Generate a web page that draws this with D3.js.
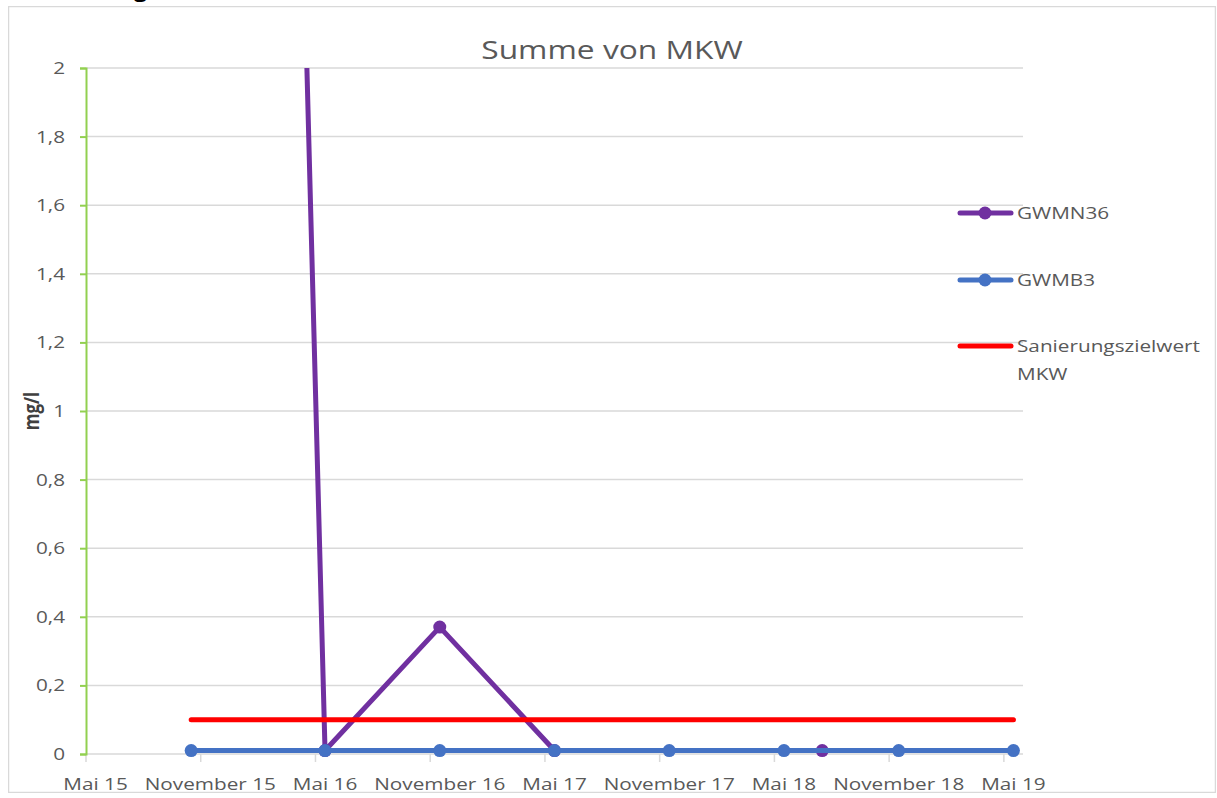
<!DOCTYPE html>
<html>
<head>
<meta charset="utf-8">
<script src="https://cdn.jsdelivr.net/npm/d3@7"></script>
<style>
  body { margin: 0; background: #fff; }
  text { font-family: "Open Sans", "Noto Sans", sans-serif; }
</style>
</head>
<body>
<div id="chart"></div>
<script>
// sample dates (year-month) and values in mg/l
const sampleMonths = ["2015-10", "2016-05", "2016-11", "2017-05", "2017-11", "2018-05", "2018-07", "2018-11", "2019-05"];
const gwmn36 = [14.7, 0.01, 0.37, 0.01, null, null, 0.01, null, null];
const gwmb3 = [0.01, 0.01, 0.01, 0.01, 0.01, 0.01, null, 0.01, 0.01];
const zielwert = [0.1, 0.1, 0.1, 0.1, 0.1, 0.1, 0.1, 0.1, 0.1];

const tickMonths = ["2015-05", "2015-11", "2016-05", "2016-11", "2017-05", "2017-11", "2018-05", "2018-11", "2019-05"];
const tickLabels = ["Mai 15", "November 15", "Mai 16", "November 16", "Mai 17", "November 17", "Mai 18", "November 18", "Mai 19"];
const yTicks = [0, 0.2, 0.4, 0.6, 0.8, 1, 1.2, 1.4, 1.6, 1.8, 2];
const yTickLabels = ["0", "0,2", "0,4", "0,6", "0,8", "1", "1,2", "1,4", "1,6", "1,8", "2"];

const W = 1217, H = 798;
const plot = { left: 86, right: 1023, top: 68, bottom: 754 };
const grey = "#595959", gridCol = "#d9d9d9";
const sx = 1.22; // the screenshot is stretched sideways, so are its letters

const svg = d3.select("#chart").append("svg")
  .attr("width", W)
  .attr("height", H);

// helper: text placed at (x,y), stretched horizontally
function wideText(sel, x, y, str) {
  return sel.append("text")
    .attr("transform", "translate(" + x + "," + y + ")scale(" + sx + ",1)")
    .text(str);
}

// whole chart is clipped to its frame
svg.append("clipPath").attr("id", "frame")
  .append("rect").attr("x", 8).attr("y", 6).attr("width", 1208).attr("height", 787);
svg.append("clipPath").attr("id", "plotclip")
  .append("rect").attr("x", plot.left).attr("y", plot.top)
  .attr("width", plot.right - plot.left + 10).attr("height", plot.bottom - plot.top + 10);

// heading text above the chart (only its descender shows)
wideText(svg, 134, -3, "g")
  .style("font-size", "19px").style("font-weight", "bold").attr("fill", "#000");

const g = svg.append("g").attr("clip-path", "url(#frame)");

g.append("rect")
  .attr("x", 8.5).attr("y", 6.5).attr("width", 1207).attr("height", 786)
  .attr("fill", "#fff").attr("stroke", gridCol).attr("stroke-width", 1.5);

// one band per month, Excel-style date axis with month base unit
const fmt = d3.timeFormat("%Y-%m");
const months = d3.timeMonth.range(new Date(2015, 4, 1), new Date(2019, 5, 1)).map(fmt);

const x = d3.scaleBand()
  .domain(months)
  .range([plot.left, plot.right]);
const xc = (m) => x(m) + x.bandwidth() / 2;

const y = d3.scaleLinear()
  .domain([0, 2])
  .range([plot.bottom, plot.top]);

// gridlines
g.append("g")
  .selectAll("line")
  .data(yTicks)
  .join("line")
  .attr("x1", plot.left).attr("x2", plot.right)
  .attr("y1", d => y(d)).attr("y2", d => y(d))
  .attr("stroke", gridCol).attr("stroke-width", 1.5);

// x axis labels (centred on the month) + tick marks at month start
const xAxis = g.append("g")
  .attr("transform", "translate(0," + plot.bottom + ")")
  .call(d3.axisBottom(x)
    .tickValues(tickMonths)
    .tickFormat((d, i) => tickLabels[i])
    .tickSize(0)
    .tickPadding(24));
xAxis.select(".domain").remove();
xAxis.selectAll(".tick line").remove();
xAxis.selectAll("text")
  .attr("fill", grey)
  .attr("transform", "scale(" + sx + ",1)")
  .style("font-size", "17px")
  .style("font-family", "'Open Sans', sans-serif");
g.append("g")
  .selectAll("line")
  .data(tickMonths)
  .join("line")
  .attr("x1", d => x(d)).attr("x2", d => x(d))
  .attr("y1", plot.bottom).attr("y2", plot.bottom + 8)
  .attr("stroke", gridCol).attr("stroke-width", 1.5);

// y axis (green)
const yPad = 14;
const yAxis = g.append("g")
  .attr("transform", "translate(" + plot.left + ",0)")
  .call(d3.axisLeft(y)
    .tickValues(yTicks)
    .tickFormat((d, i) => yTickLabels[i])
    .tickSize(6)
    .tickSizeOuter(6)
    .tickPadding(yPad));
yAxis.select(".domain").attr("stroke", "#92d050").attr("stroke-width", 2);
yAxis.selectAll(".tick line").attr("stroke", "#92d050").attr("stroke-width", 2);
yAxis.selectAll("text")
  .attr("fill", grey)
  .attr("x", -(6 + yPad + 1) / sx)
  .attr("transform", "scale(" + sx + ",1)")
  .style("font-size", "17px")
  .style("font-family", "'Open Sans', sans-serif");

// title
wideText(g, 612, 59, "Summe von MKW")
  .attr("text-anchor", "middle")
  .attr("fill", grey)
  .style("font-size", "26px");

// y label
g.append("text")
  .attr("transform", "translate(39,411)rotate(-90)scale(1," + sx + ")")
  .attr("text-anchor", "middle")
  .attr("fill", "#404040")
  .style("font-size", "17px")
  .style("font-weight", "bold")
  .text("mg/l");

// series
const series = [
  { name: "GWMN36", values: gwmn36, color: "#7030a0", marker: true },
  { name: "GWMB3", values: gwmb3, color: "#4472c4", marker: true },
  { name: "Sanierungszielwert MKW", values: zielwert, color: "#ff0000", marker: false }
];

const line = d3.line()
  .x(d => xc(d.m))
  .y(d => y(d.v));

const plotG = g.append("g").attr("clip-path", "url(#plotclip)");

series.forEach(s => {
  const pts = sampleMonths.map((m, i) => ({ m: m, v: s.values[i] })).filter(d => d.v != null);
  plotG.append("path")
    .datum(pts)
    .attr("fill", "none")
    .attr("stroke", s.color)
    .attr("stroke-width", 5)
    .attr("stroke-linejoin", "round")
    .attr("stroke-linecap", "round")
    .attr("d", line);
  if (s.marker) {
    plotG.append("g")
      .selectAll("circle")
      .data(pts)
      .join("circle")
      .attr("cx", d => xc(d.m))
      .attr("cy", d => y(d.v))
      .attr("r", 6.5)
      .attr("fill", s.color);
  }
});

// legend
const legY = [213, 280, 346];
series.forEach((s, i) => {
  const row = g.append("g").attr("transform", "translate(0," + legY[i] + ")");
  row.append("line")
    .attr("x1", 960).attr("x2", 1011)
    .attr("stroke", s.color).attr("stroke-width", 5).attr("stroke-linecap", "round");
  if (s.marker) {
    row.append("circle").attr("cx", 985).attr("r", 6.5).attr("fill", s.color);
  }
  const t = row.append("text")
    .attr("transform", "translate(1017,6)scale(" + sx + ",1)")
    .attr("fill", grey)
    .style("font-size", "17px");
  const words = s.name === "Sanierungszielwert MKW" ? ["Sanierungszielwert", "MKW"] : [s.name];
  words.forEach((w, j) => {
    t.append("tspan").attr("x", 0).attr("dy", j === 0 ? 0 : 28).text(w);
  });
});
</script>
</body>
</html>
